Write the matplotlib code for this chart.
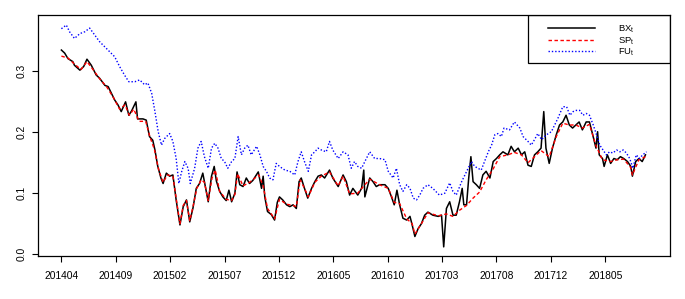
import matplotlib
matplotlib.use("Agg")
import matplotlib.pyplot as plt
from matplotlib.patches import Rectangle

plt.rcParams['font.family'] = ['Liberation Sans', 'DejaVu Sans']
plt.rcParams['mathtext.default'] = 'regular'

# trading-day index and values
obs_bx = [1, 7, 13, 22, 25, 35, 42, 48, 56, 65,
          71, 81, 87, 93, 99, 105, 111, 119, 125, 130,
          138, 141, 151, 157, 163, 169, 173, 178, 184, 188,
          194, 200, 206, 212, 219, 225, 231, 237, 243, 249,
          255, 261, 265, 271, 277, 282, 286, 292, 298, 304,
          309, 314, 320, 324, 329, 335, 341, 347, 353, 363,
          369, 372, 375, 380, 387, 393, 398, 402, 408, 415,
          421, 427, 433, 438, 442, 448, 454, 461, 467, 473,
          479, 485, 494, 500, 510, 519, 525, 531, 537, 546,
          553, 557, 559, 568, 574, 580, 586, 596, 602, 608,
          613, 618, 623, 629, 636, 642, 646, 651, 657, 663,
          669, 675, 684, 694, 700, 704, 709, 715, 721, 727,
          733, 738, 741, 746, 750, 754, 758, 764, 770, 776,
          782, 789, 795, 801, 807, 813, 822, 828, 834, 841,
          847, 853, 859, 865, 871, 877, 883, 888, 892, 898,
          904, 911, 917, 923, 929, 935, 941, 947, 953, 959,
          966, 972, 978, 984, 987, 990, 996, 999, 1005, 1011,
          1017, 1023, 1029, 1035, 1042, 1048, 1051, 1057, 1063, 1069,
          1075]
bx = [0.335, 0.330, 0.321, 0.316, 0.310, 0.302, 0.308, 0.320, 0.310, 0.294,
      0.289, 0.277, 0.275, 0.264, 0.253, 0.245, 0.234, 0.250, 0.228, 0.235,
      0.250, 0.222, 0.222, 0.220, 0.193, 0.187, 0.171, 0.145, 0.125, 0.116,
      0.133, 0.128, 0.130, 0.089, 0.048, 0.078, 0.089, 0.053, 0.076, 0.108,
      0.116, 0.133, 0.114, 0.086, 0.128, 0.144, 0.120, 0.103, 0.094, 0.088,
      0.105, 0.086, 0.100, 0.135, 0.114, 0.111, 0.125, 0.116, 0.121, 0.135,
      0.108, 0.128, 0.094, 0.070, 0.065, 0.056, 0.085, 0.094, 0.089, 0.081,
      0.078, 0.081, 0.075, 0.119, 0.125, 0.108, 0.092, 0.108, 0.119, 0.128,
      0.130, 0.125, 0.138, 0.125, 0.111, 0.130, 0.119, 0.097, 0.108, 0.097,
      0.108, 0.138, 0.094, 0.125, 0.119, 0.111, 0.114, 0.114, 0.108, 0.094,
      0.081, 0.105, 0.081, 0.059, 0.056, 0.062, 0.048, 0.029, 0.042, 0.050,
      0.064, 0.069, 0.064, 0.062, 0.064, 0.012, 0.075, 0.086, 0.064, 0.064,
      0.086, 0.108, 0.081, 0.081, 0.125, 0.160, 0.119, 0.114, 0.108, 0.130,
      0.136, 0.125, 0.152, 0.157, 0.163, 0.168, 0.163, 0.177, 0.168, 0.174,
      0.163, 0.168, 0.146, 0.144, 0.163, 0.168, 0.174, 0.234, 0.174, 0.149,
      0.174, 0.196, 0.212, 0.217, 0.228, 0.212, 0.207, 0.212, 0.217, 0.204,
      0.217, 0.217, 0.196, 0.174, 0.201, 0.163, 0.157, 0.144, 0.163, 0.149,
      0.157, 0.155, 0.160, 0.157, 0.152, 0.144, 0.128, 0.152, 0.157, 0.152,
      0.163]

obs_sp = [1, 13, 25, 37, 48, 60, 72, 84, 96, 108,
          118, 126, 134, 144, 156, 164, 172, 180, 188, 196,
          206, 212, 219, 225, 231, 237, 243, 250, 258, 264,
          271, 278, 284, 292, 304, 314, 320, 325, 335, 347,
          357, 364, 372, 380, 393, 402, 415, 427, 433, 440,
          448, 455, 467, 479, 494, 510, 519, 531, 546, 557,
          568, 586, 602, 613, 623, 636, 646, 651, 663, 675,
          694, 709, 721, 733, 746, 758, 770, 782, 795, 807,
          822, 834, 847, 859, 871, 883, 898, 911, 923, 935,
          947, 959, 972, 984, 996, 1011, 1023, 1035, 1048, 1051,
          1063, 1075]
sp = [0.325, 0.322, 0.312, 0.303, 0.316, 0.302, 0.287, 0.275, 0.258, 0.238,
      0.245, 0.228, 0.238, 0.218, 0.218, 0.192, 0.172, 0.138, 0.118, 0.130,
      0.128, 0.092, 0.050, 0.080, 0.088, 0.055, 0.078, 0.108, 0.122, 0.118,
      0.088, 0.125, 0.138, 0.103, 0.090, 0.088, 0.098, 0.132, 0.112, 0.118,
      0.125, 0.130, 0.112, 0.075, 0.058, 0.090, 0.082, 0.080, 0.078, 0.122,
      0.108, 0.094, 0.118, 0.128, 0.135, 0.112, 0.128, 0.099, 0.100, 0.112,
      0.123, 0.114, 0.108, 0.085, 0.083, 0.058, 0.050, 0.033, 0.050, 0.068,
      0.063, 0.066, 0.062, 0.072, 0.080, 0.092, 0.102, 0.122, 0.140, 0.160,
      0.163, 0.167, 0.163, 0.150, 0.160, 0.170, 0.160, 0.193, 0.215, 0.212,
      0.212, 0.207, 0.213, 0.178, 0.155, 0.152, 0.155, 0.156, 0.142, 0.130,
      0.155, 0.160]

obs_fu = [1, 10, 16, 25, 35, 44, 53, 62, 71, 81,
          90, 99, 108, 117, 125, 136, 145, 154, 160, 167,
          173, 179, 185, 191, 200, 206, 212, 217, 222, 228,
          234, 238, 246, 252, 258, 264, 271, 277, 283, 289,
          295, 301, 307, 314, 320, 326, 332, 338, 344, 350,
          360, 366, 372, 378, 384, 390, 396, 402, 412, 421,
          430, 436, 442, 448, 455, 461, 467, 473, 479, 488,
          494, 500, 510, 519, 528, 534, 540, 546, 553, 559,
          568, 577, 586, 596, 602, 611, 617, 623, 629, 636,
          642, 648, 654, 660, 666, 675, 684, 696, 706, 715,
          721, 727, 737, 743, 749, 755, 761, 767, 773, 779,
          786, 792, 798, 804, 810, 815, 825, 834, 844, 850,
          859, 865, 871, 877, 884, 893, 902, 908, 914, 923,
          930, 936, 942, 948, 954, 960, 966, 972, 979, 985,
          991, 997, 1003, 1009, 1015, 1022, 1028, 1034, 1040, 1046,
          1052, 1058, 1064, 1070, 1077]
fu = [0.370, 0.376, 0.365, 0.354, 0.362, 0.365, 0.371, 0.360, 0.349, 0.340,
      0.332, 0.324, 0.308, 0.294, 0.283, 0.283, 0.286, 0.278, 0.281, 0.264,
      0.234, 0.201, 0.179, 0.190, 0.198, 0.185, 0.157, 0.116, 0.135, 0.152,
      0.141, 0.116, 0.141, 0.174, 0.185, 0.160, 0.141, 0.174, 0.182, 0.174,
      0.157, 0.152, 0.141, 0.152, 0.157, 0.193, 0.163, 0.174, 0.179, 0.163,
      0.177, 0.163, 0.144, 0.136, 0.125, 0.122, 0.149, 0.144, 0.138, 0.136,
      0.130, 0.152, 0.168, 0.152, 0.136, 0.163, 0.168, 0.174, 0.171, 0.168,
      0.185, 0.171, 0.157, 0.168, 0.163, 0.141, 0.152, 0.144, 0.141, 0.152,
      0.168, 0.157, 0.157, 0.155, 0.136, 0.125, 0.141, 0.114, 0.103, 0.114,
      0.108, 0.092, 0.089, 0.097, 0.108, 0.114, 0.108, 0.097, 0.100, 0.117,
      0.103, 0.097, 0.119, 0.130, 0.141, 0.152, 0.144, 0.141, 0.138, 0.152,
      0.168, 0.179, 0.196, 0.198, 0.193, 0.207, 0.204, 0.217, 0.207, 0.193,
      0.185, 0.179, 0.188, 0.198, 0.188, 0.196, 0.201, 0.212, 0.223, 0.242,
      0.242, 0.228, 0.234, 0.236, 0.236, 0.228, 0.231, 0.228, 0.212, 0.196,
      0.179, 0.171, 0.163, 0.168, 0.166, 0.171, 0.168, 0.171, 0.166, 0.157,
      0.141, 0.163, 0.157, 0.163, 0.168]

tick_obs = [1, 101, 201, 301, 401, 501, 601, 701, 801, 901, 1001]
tick_labels = ['201404', '201409', '201502', '201507', '201512', '201605',
               '201610', '201703', '201708', '201712', '201805']

fig = plt.figure(figsize=(6.85, 2.99), dpi=100)
ax = fig.add_axes([0.0555, 0.1438, 0.9225, 0.806])

l1, = ax.plot(obs_bx, bx, color='black', lw=1.1, label=r'$BX_t$')
l2, = ax.plot(obs_sp, sp, color='red', lw=1.0, linestyle=(0, (2.5, 1.8)), label=r'$SP_t$')
l3, = ax.plot(obs_fu, fu, color='blue', lw=1.0, linestyle=(0, (1, 1.4)), label=r'$FU_t$')

ax.set_xlim(-42, 1120)
ax.set_ylim(-0.003, 0.3925)
ax.set_xticks(tick_obs)
ax.set_xticklabels(tick_labels)
ax.set_yticks([0.0, 0.1, 0.2, 0.3])
ax.set_yticklabels(['0.0', '0.1', '0.2', '0.3'], rotation=90, va='center')
ax.tick_params(axis='both', labelsize=7.4, length=4, width=0.8, direction='out')
ax.tick_params(axis='x', pad=6.5)
ax.tick_params(axis='y', pad=4.5)
for s in ax.spines.values():
    s.set_linewidth(0.9)

# legend box in the top right corner
ax.add_patch(Rectangle((0.7755, 0.80), 0.2245, 0.20, transform=ax.transAxes,
                       fill=False, edgecolor='black', lw=0.9, zorder=5))
leg = ax.legend(handles=[l1, l2, l3], loc='upper left', bbox_to_anchor=(0.793, 1.0),
                frameon=False, fontsize=6.8, handlelength=5.0, handletextpad=2.4,
                labelspacing=0.0, borderpad=0.9, borderaxespad=0)
leg.set_zorder(6)

fig.savefig('out.png', dpi=100)
